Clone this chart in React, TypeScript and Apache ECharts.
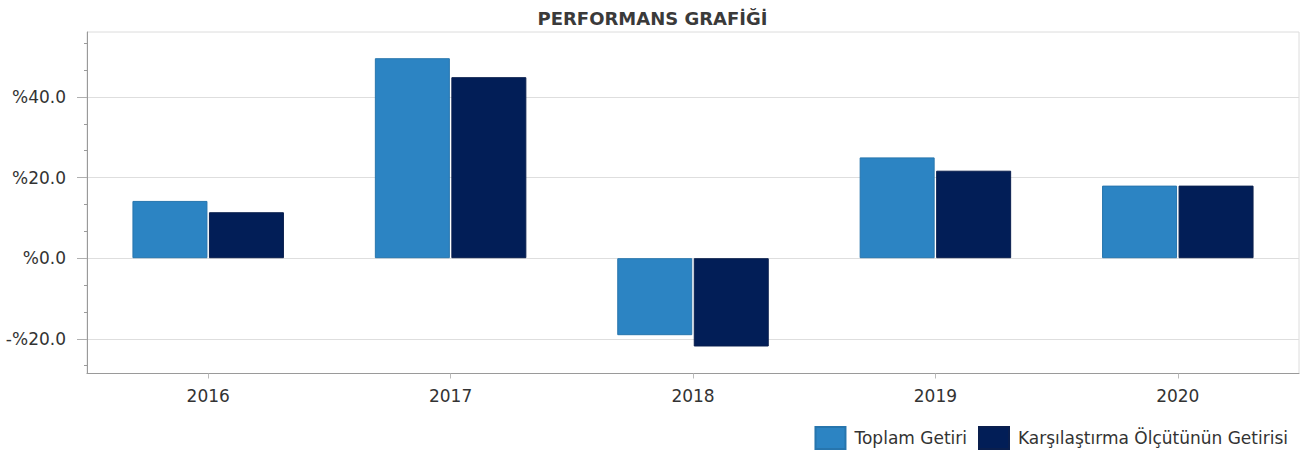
import React, { useEffect, useRef } from "react";
import * as echarts from "echarts";

const years = ["2016", "2017", "2018", "2019", "2020"];
const toplamGetiri = [14.2, 49.6, -19.1, 25.0, 18.0];
const karsilastirma = [11.4, 44.9, -21.9, 21.7, 18.0];
const majorTicks = [-20, 0, 20, 40];
const allTicks = [-26.67, -20, -13.33, -6.67, 0, 6.67, 13.33, 20, 26.67, 33.33, 40, 46.67, 53.33];
const yMin = -28.6;
const yMax = 56.1;

const fmt = (v: number) => (v < 0 ? "-" : "") + "%" + Math.abs(v).toFixed(1);

export default function App() {
  const ref = useRef<HTMLDivElement>(null);
  useEffect(() => {
    if (!ref.current) return;
    const chart = echarts.init(ref.current, null, { renderer: "svg" });
    const font = "DejaVu Sans";
    chart.setOption({
      animation: false,
      backgroundColor: "#ffffff",
      title: {
        text: "PERFORMANS GRAFİĞİ",
        left: "center",
        top: 4,
        textStyle: { fontFamily: font, fontSize: 18, fontWeight: "bold", color: "#3a3a3a" },
      },
      legend: {
        right: 12,
        top: 421,
        itemWidth: 30,
        itemHeight: 22,
        itemGap: 11,
        icon: "rect",
        textStyle: { fontFamily: font, fontSize: 17, color: "#333", padding: [0, 0, 0, 4] },
        data: ["Toplam Getiri", "Karşılaştırma Ölçütünün Getirisi"],
      },
      grid: {
        left: 87,
        right: 6,
        top: 32,
        bottom: 76.5,
        show: true,
        borderColor: "#dcdcdc",
        borderWidth: 1,
        backgroundColor: "transparent",
      },
      xAxis: {
        type: "category",
        data: years,
        axisLine: { show: true, onZero: false, lineStyle: { color: "#9a9a9a", width: 1 } },
        axisTick: { show: true, alignWithLabel: true, length: 5, lineStyle: { color: "#bbbbbb" } },
        axisLabel: { fontFamily: font, fontSize: 17, color: "#333", margin: 14 },
        splitLine: { show: false },
      },
      yAxis: [
        {
          type: "value",
          min: yMin,
          max: yMax,
          position: "left",
          axisLine: { show: true, lineStyle: { color: "#9a9a9a", width: 1 } },
          axisTick: { show: true, inside: false, length: 3, customValues: allTicks, lineStyle: { color: "#9a9a9a" } },
          axisLabel: {
            show: true,
            customValues: majorTicks,
            formatter: (v: number) => fmt(v),
            fontFamily: font,
            fontSize: 17,
            color: "#333",
            margin: 21,
          },
          splitLine: { show: false },
        },
        {
          type: "value",
          min: yMin,
          max: yMax,
          position: "left",
          offset: 0,
          axisLine: { show: false },
          axisTick: { show: true, length: 10, customValues: majorTicks, lineStyle: { color: "#b0b0b0" } },
          axisLabel: { show: false, customValues: majorTicks },
          splitLine: { show: true, lineStyle: { color: "#dedede", width: 1 } },
        },
      ],
      series: [
        {
          name: "Toplam Getiri",
          type: "bar",
          data: toplamGetiri,
          barWidth: 75,
          barGap: "2%",
          itemStyle: { color: "#2c84c3", borderColor: "#2775ad", borderWidth: 1 },
        },
        {
          name: "Karşılaştırma Ölçütünün Getirisi",
          type: "bar",
          data: karsilastirma,
          barWidth: 75,
          barGap: "2%",
          itemStyle: { color: "#021e57", borderColor: "#0a1f4e", borderWidth: 1 },
        },
      ],
    });
    return () => chart.dispose();
  }, []);
  return (
    <div
      ref={ref}
      style={{ position: "fixed", left: 0, top: 0, width: 1305, height: 450 }}
    />
  );
}
